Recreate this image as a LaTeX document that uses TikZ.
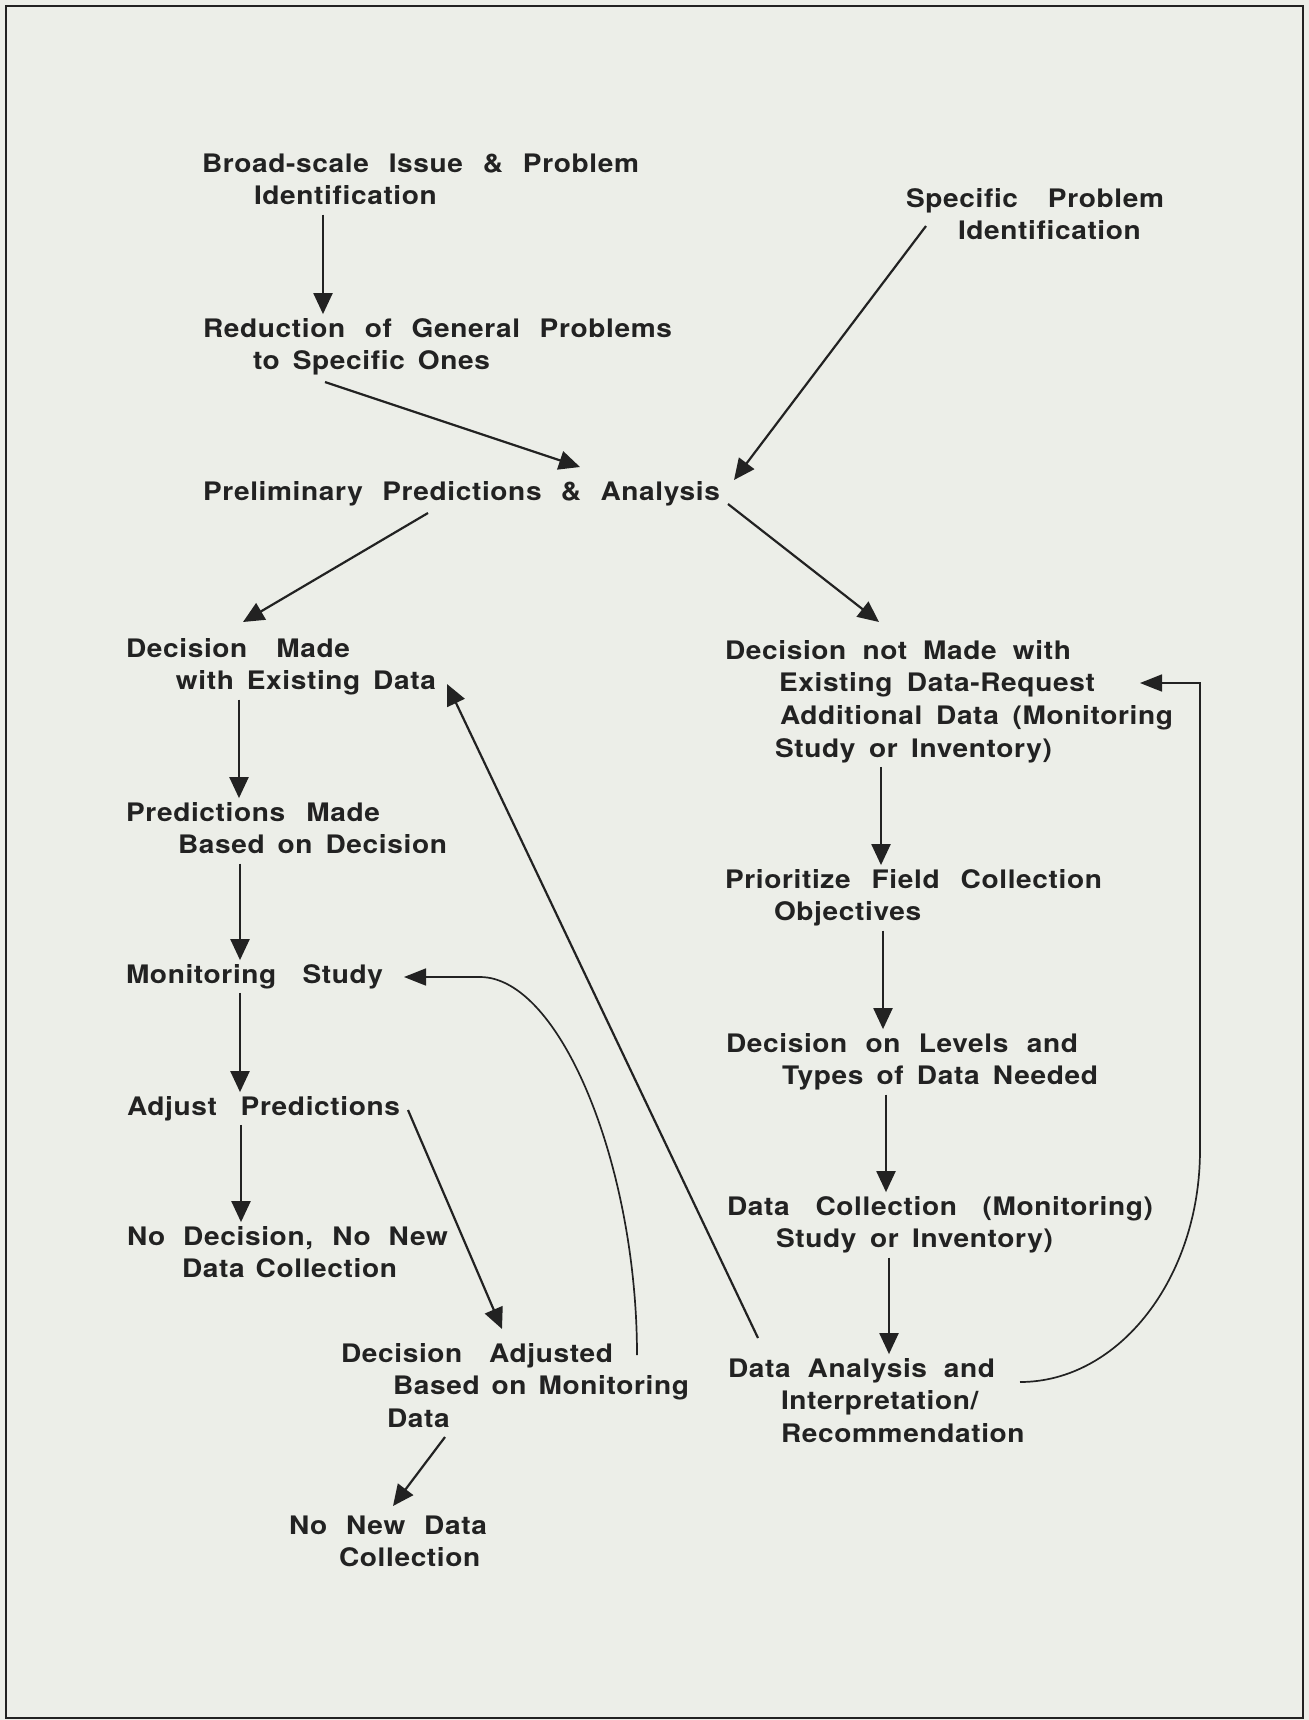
\documentclass[tikz,border=0pt]{standalone}
\usepackage{fontspec}
\newfontfamily\lblfont{TeX Gyre Heros}[FakeStretch=1.1,LetterSpace=2.5,WordSpace={1.5,4,2},Ligatures=NoCommon]
\usetikzlibrary{arrows.meta}
\newlength{\px}\setlength{\px}{0.5pt}
% one printed line stretched to a given width (in px units)
\newcommand{\fitline}[2]{\makebox[#1\px][s]{#2}}
\newcommand{\ind}[1]{\hspace*{#1\px}}
\newcommand{\lines}[1]{\begin{tabular}[t]{@{}l@{}}#1\end{tabular}}
\definecolor{paper}{RGB}{236,238,232}
\definecolor{ink}{RGB}{34,34,34}

\begin{document}
\begin{tikzpicture}[x=0.5pt,y=-0.5pt,
  lbl/.style={anchor=base west, inner sep=0pt, outer sep=0pt, text=ink,
    font=\lblfont\bfseries\fontsize{12.75}{16.35}\selectfont},
  arr/.style={draw=ink, line width=1.1pt, -{Triangle[length=10.5pt,width=9.5pt]}},
  loopback/.style={draw=ink, line width=0.85pt, -{Triangle[length=11pt,width=8.5pt]}}]

% sheet and frame
\fill[paper] (0,0) rectangle (1309,1720);
\draw[ink, line width=1pt] (6,6) rectangle (1303,1718);

% ---- labels ----
\node[lbl] (broad) at (202,172) {\lines{\fitline{437}{Broad-scale Issue \& Problem}\\ \ind{52}Identification}};
\node[lbl] (spec) at (906,207) {\lines{\fitline{258}{Specific Problem}\\ \ind{52}Identification}};
\node[lbl] (reduc) at (203,337) {\lines{\fitline{469}{Reduction of General Problems}\\ \ind{50}\fitline{237}{to Specific Ones}}};
\node[lbl] (prelim) at (203,500) {\lines{\fitline{517}{Preliminary Predictions \& Analysis}}};

\node[lbl] (dmade) at (126,657) {\lines{\fitline{224}{Decision Made}\\ \ind{50}\fitline{260}{with Existing Data}}};
\node[lbl] (predm) at (126,821) {\lines{\fitline{254}{Predictions Made}\\ \ind{52}\fitline{269}{Based on Decision}}};
\node[lbl] (mon) at (126,983) {\lines{\fitline{257}{Monitoring Study}}};
\node[lbl] (adjp) at (127,1115) {\lines{\fitline{273}{Adjust Predictions}}};
\node[lbl] (nodec) at (127,1245) {\lines{\fitline{321}{No Decision, No New}\\ \ind{55}\fitline{215}{Data Collection}}};
\node[lbl] (dadj) at (341,1362) {\lines{\fitline{272}{Decision Adjusted}\\ \ind{52}\fitline{296}{Based on Monitoring}\\ \ind{46}Data}};
\node[lbl] (nonew) at (289,1534) {\lines{\fitline{198}{No New Data}\\ \ind{50}Collection}};

\node[lbl] (dnot) at (725,659) {\lines{\fitline{346}{Decision not Made with}\\ \ind{54}\fitline{316}{Existing Data-Request}\\ \ind{55}\fitline{393}{Additional Data (Monitoring}\\ \ind{50}\fitline{277}{Study or Inventory)}}};
\node[lbl] (prio) at (725,888) {\lines{\fitline{377}{Prioritize Field Collection}\\ \ind{49}Objectives}};
\node[lbl] (levels) at (726,1052) {\lines{\fitline{352}{Decision on Levels and}\\ \ind{56}\fitline{316}{Types of Data Needed}}};
\node[lbl] (dcoll) at (727,1215) {\lines{\fitline{426}{Data Collection (Monitoring)}\\ \ind{49}\fitline{277}{Study or Inventory)}}};
\node[lbl] (anal) at (728,1377) {\lines{\fitline{267}{Data Analysis and}\\ \ind{53}Interpretation/\\ \ind{53}Recommendation}};

% ---- vertical flow ----
\draw[arr] ([shift={(121,0)}]broad.south west) -- ([shift={(120,0)}]reduc.north west);
\draw[arr] ([shift={(113,0)}]dmade.south west) -- ([shift={(113,0)}]predm.north west);
\draw[arr] ([shift={(114,0)}]predm.south west) -- ([shift={(114,0)}]mon.north west);
\draw[arr] ([shift={(114,0)}]mon.south west) -- ([shift={(113,0)}]adjp.north west);
\draw[arr] ([shift={(114,0)}]adjp.south west) -- ([shift={(114,0)}]nodec.north west);
\draw[arr] ([shift={(156,0)}]dnot.south west) -- ([shift={(156,0)}]prio.north west);
\draw[arr] ([shift={(158,0)}]prio.south west) -- ([shift={(157,0)}]levels.north west);
\draw[arr] ([shift={(160,0)}]levels.south west) -- ([shift={(159,0)}]dcoll.north west);
\draw[arr] ([shift={(162,0)}]dcoll.south west) -- ([shift={(161,0)}]anal.north west);

% ---- diagonal flow ----
\draw[arr] ([shift={(122,45)}]reduc.base west) -- ([shift={(377,-33)}]prelim.base west);
\draw[arr] ([shift={(20,19)}]spec.base west) -- ([shift={(531,-20)}]prelim.base west);
\draw[arr] ([shift={(225,13)}]prelim.base west) -- ([shift={(117,-35)}]dmade.base west);
\draw[arr] ([shift={(525,4)}]prelim.base west) -- ([shift={(154,-37)}]dnot.base west);
\draw[arr] ([shift={(30,-39)}]anal.base west) -- ([shift={(321,27)}]dmade.base west);
\draw[arr] ([shift={(281,-5)}]adjp.base west) -- ([shift={(161,-33)}]dadj.base west);
\draw[arr] ([shift={(104,75)}]dadj.base west) -- ([shift={(104,-28)}]nonew.base west);

% ---- feedback loops ----
\draw[loopback] ([shift={(296,-7)}]dadj.base west)
  .. controls +(0,-190) and +(80,0) .. ([shift={(354,-6)}]mon.base west)
  -- ([shift={(278,-6)}]mon.base west);
\draw[loopback] ([shift={(292,5)}]anal.base west)
  .. controls +(99,0) and +(0,128) .. ([shift={(475,491)}]dnot.base west)
  -- ([shift={(475,24)}]dnot.base west)
  -- ([shift={(415,24)}]dnot.base west);
\end{tikzpicture}
\end{document}
